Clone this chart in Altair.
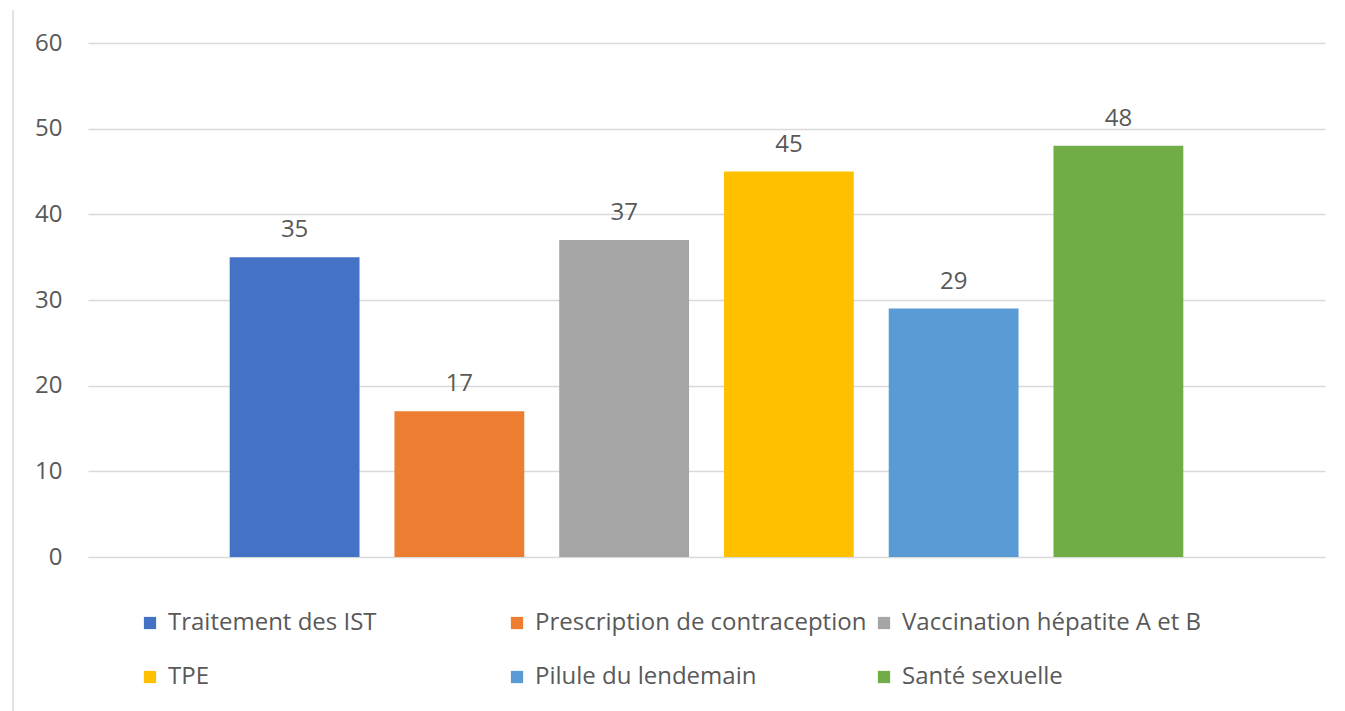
import altair as alt
import pandas as pd

# Services offered (one series per service) and their counts
services = [
    "Traitement des IST",
    "Prescription de contraception",
    "Vaccination hépatite A et B",
    "TPE",
    "Pilule du lendemain",
    "Santé sexuelle",
]
counts = [35, 17, 37, 45, 29, 48]
palette = ["#4472C4", "#ED7D31", "#A5A5A5", "#FFC000", "#5B9BD5", "#70AD47"]
y_ticks = [0, 10, 20, 30, 40, 50, 60]

df = pd.DataFrame({"service": services, "count": counts})

FONT = "Open Sans"
FONT_SIZE = 24
TEXT_COLOR = "#595959"

x_enc = alt.X(
    "service:N",
    sort=services,
    axis=None,
    scale=alt.Scale(paddingInner=0.212, paddingOuter=0.86),
)

bars = alt.Chart(df).mark_bar().encode(
    x=x_enc,
    y=alt.Y(
        "count:Q",
        scale=alt.Scale(domain=[0, 60], nice=False),
        axis=alt.Axis(
            values=y_ticks,
            title=None,
            domain=False,
            ticks=False,
            labelPadding=26,
            labelFontSize=FONT_SIZE,
            labelColor=TEXT_COLOR,
            labelFont=FONT,
            gridColor="#D9D9D9",
            gridWidth=1.3,
        ),
    ),
    color=alt.Color(
        "service:N",
        sort=services,
        scale=alt.Scale(domain=services, range=palette),
        legend=alt.Legend(
            title=None,
            orient="none",
            legendX=50,
            legendY=568,
            direction="horizontal",
            columns=3,
            gridAlign="all",
            columnPadding=5,
            rowPadding=30,
            symbolType="square",
            symbolSize=150,
            symbolStrokeWidth=0,
            labelOffset=6,
            labelFontSize=FONT_SIZE,
            labelColor=TEXT_COLOR,
            labelFont=FONT,
            labelLimit=420,
        ),
    ),
)

labels = alt.Chart(df).mark_text(
    baseline="alphabetic",
    dy=-20,
    fontSize=FONT_SIZE,
    font=FONT,
    color=TEXT_COLOR,
).encode(
    x=x_enc,
    y=alt.Y("count:Q"),
    text=alt.Text("count:Q"),
)

# thin frame line on the left edge of the chart area
frame = alt.Chart(df).mark_rule(color="#E3E3E3", strokeWidth=2).encode(
    x=alt.value(-75),
    y=alt.value(-33),
    y2=alt.value(700),
)

chart = (
    alt.layer(frame, bars, labels)
    .properties(
        width=1237,
        height=514,
        padding={"left": 88, "top": 43, "right": 20, "bottom": 154},
        autosize=alt.AutoSizeParams(type="none"),
        background="white",
    )
    .configure_view(stroke=None)
)

chart.save("out.html", embed_options={"renderer": "svg", "actions": False})
